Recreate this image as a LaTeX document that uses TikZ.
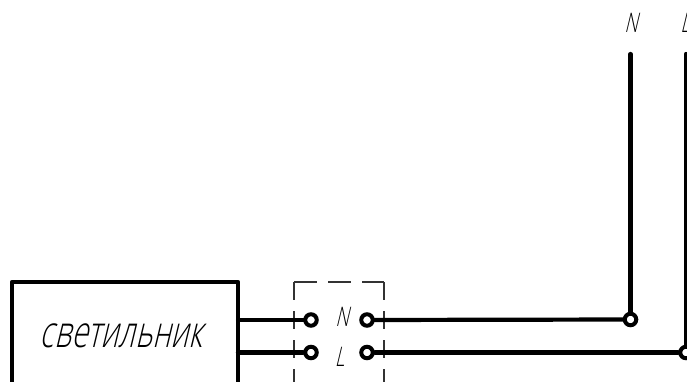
\documentclass[tikz,border=0pt]{standalone}
\usepackage{fontspec}
\newfontfamily\gost[FakeSlant=0.24,FakeStretch=0.68]{Open Sans Light}
\tikzset{
  wire/.style={line width=4.2pt,line cap=round,black},
  frame/.style={line width=4.6pt,black,line join=round},
  dashline/.style={line width=1.2pt,black!80},
  term/.style={circle,draw=black,line width=4pt,fill=white,inner sep=0pt,minimum size=11.5pt},
  lbl/.style={font=\gost\fontsize{27}{27}\selectfont,inner sep=0pt,anchor=base},
}
\begin{document}
\begin{tikzpicture}[x=1pt,y=-1pt]
\useasboundingbox (0,0) rectangle (687,382);
\clip (0,0) rectangle (687,382);
% lamp box
\draw[frame] (12,400) -- (12,282) -- (238,282) -- (238,400);
\node[lbl] (lamp) at (121,347.5) {\fontsize{44}{44}\selectfont светильник};
% dashed frame
\draw[dashline,dash pattern=on 18 off 11] (294,282) -- (294,400);
\draw[dashline,dash pattern=on 18 off 11] (384,282) -- (384,400);
\draw[dashline,dash pattern=on 23 off 11] (294,282) -- (384,282);
% coordinates
\coordinate (lampN) at (238,320);
\coordinate (lampL) at (238,352.5);
\coordinate (topN) at (630.5,54);
\coordinate (topL) at (686,54);
% wires
\node[term] (n1) at (311,320) {};
\node[term] (l1) at (311,352.5) {};
\node[term] (n2) at (367,320) {};
\node[term] (l2) at (367,352.5) {};
\node[term] (jn) at (630.5,319.5) {};
\node[term] (jl) at (686,352.5) {};
\draw[wire] (lampN) -- (n1);
\draw[wire] (lampL) -- (l1);
\draw[wire] (n2) -- (jn);
\draw[wire] (l2) -- (jl);
\draw[wire] (topN) -- (jn);
\draw[wire] (topL) -- (jl);
% labels
\node[lbl] (tn) at (342,326) {N};
\node[lbl] (tl) at (339.5,366) {L};
\node[lbl] (hn) at (631,33) {N};
\node[lbl] (hl) at (685,33) {L};
\end{tikzpicture}
\end{document}
